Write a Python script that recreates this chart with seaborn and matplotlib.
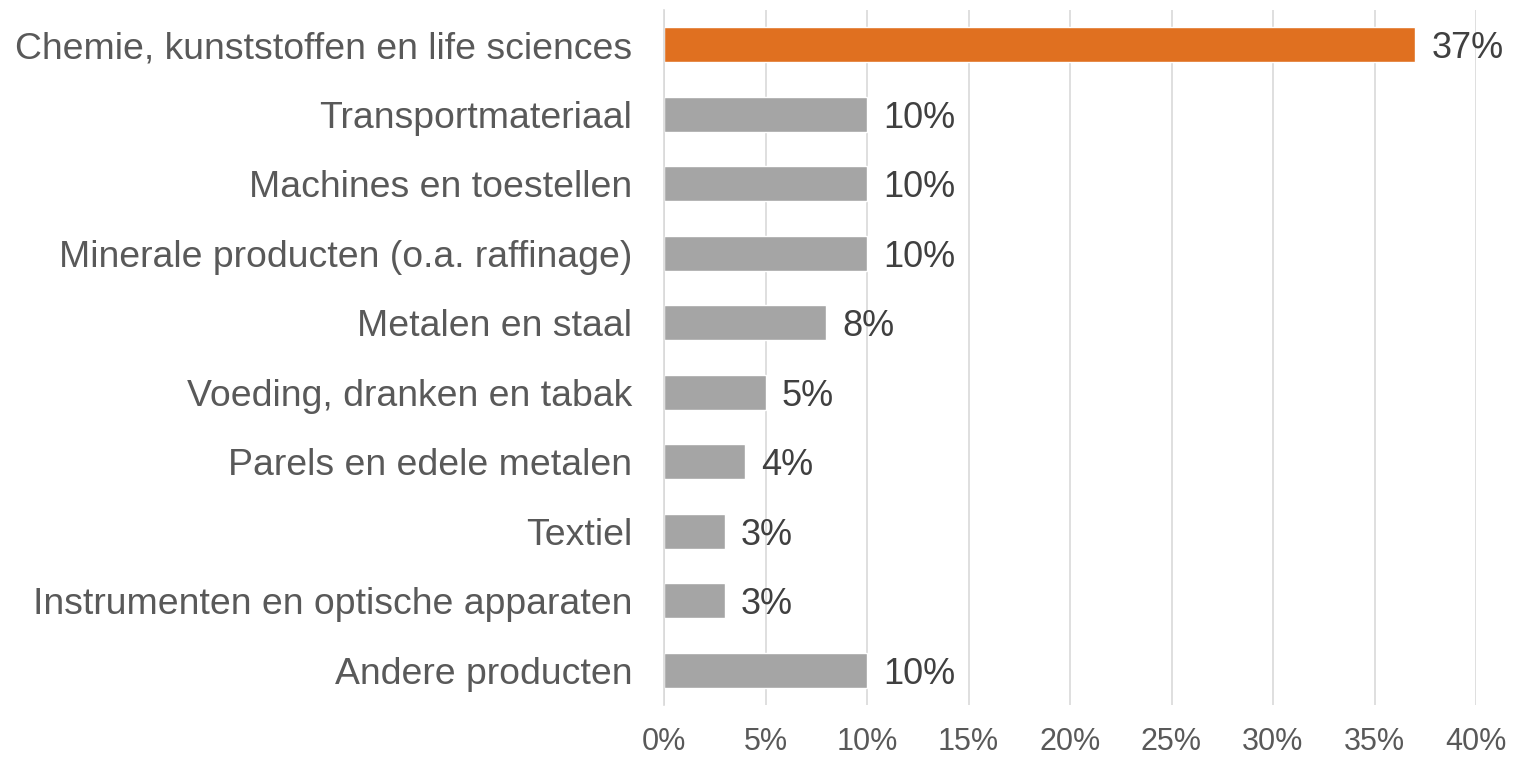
import matplotlib
matplotlib.use("Agg")
import matplotlib.pyplot as plt
import seaborn as sns
import pandas as pd

categories = [
    "Chemie, kunststoffen en life sciences",
    "Transportmateriaal",
    "Machines en toestellen",
    "Minerale producten (o.a. raffinage)",
    "Metalen en staal",
    "Voeding, dranken en tabak",
    "Parels en edele metalen",
    "Textiel",
    "Instrumenten en optische apparaten",
    "Andere producten",
]
values = [37, 10, 10, 10, 8, 5, 4, 3, 3, 10]
value_labels = ["37%", "10%", "10%", "10%", "8%", "5%", "4%", "3%", "3%", "10%"]
xticks = [0, 5, 10, 15, 20, 25, 30, 35, 40]
xtick_labels = ["0%", "5%", "10%", "15%", "20%", "25%", "30%", "35%", "40%"]

sns.set_theme(style="white")
plt.rcParams['font.family'] = ['Liberation Sans', 'DejaVu Sans']

df = pd.DataFrame({"cat": categories, "val": values})
colors = ["#E07020"] + ["#A5A5A5"] * (len(categories) - 1)

fig = plt.figure(figsize=(15.14, 7.57), dpi=100)
ax = fig.add_axes([664/1514, 1 - 705/757, (1476 - 664)/1514, (705 - 10)/757])

sns.barplot(data=df, y="cat", x="val", hue="cat", palette=colors, legend=False,
            width=0.5, ax=ax, saturation=1)

ax.set_xlim(0, 40)
ax.set_xticks(xticks)
ax.set_xticklabels(xtick_labels, fontsize=22, color="#595959")
ax.tick_params(axis="y", labelsize=26.9, colors="#595959", length=0, pad=23)
ax.tick_params(axis="x", length=0, pad=16)
ax.set_xlabel("")
ax.set_ylabel("")
ax.grid(axis="x", color="#D9D9D9", linewidth=1.2)
ax.set_axisbelow(True)
for s in ["top", "right", "bottom"]:
    ax.spines[s].set_visible(False)
ax.spines["left"].set_color("#D9D9D9")
ax.spines["left"].set_linewidth(1.2)

for i, (v, lab) in enumerate(zip(values, value_labels)):
    ax.text(v + 0.8, i, lab, va="center_baseline", ha="left", fontsize=26, color="#404040")

fig.savefig("out.png", dpi=100)
